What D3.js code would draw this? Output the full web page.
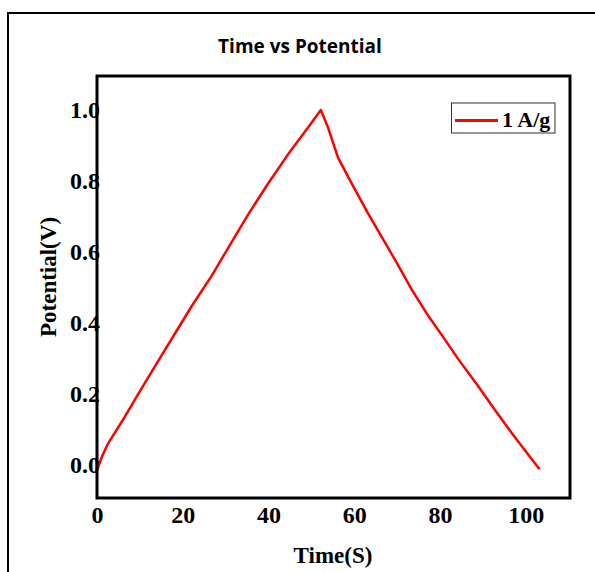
<!DOCTYPE html>
<html><head><meta charset="utf-8">
<script src="https://cdn.jsdelivr.net/npm/d3@7"></script>
<style>body{margin:0;background:#fff}svg{display:block}</style>
</head><body>
<script>
const chartTitle = "Time vs Potential";
const xLabel = "Time(S)";
const yLabel = "Potential(V)";
const seriesName = "1 A/g";
const xTicks = [0, 20, 40, 60, 80, 100];
const yTicks = [0.0, 0.2, 0.4, 0.6, 0.8, 1.0];
const time = [0, 0.3, 1.2, 2.6, 6.5, 9.6, 13.5, 17.4, 22.1, 26.7, 30.6, 35.3, 39.9, 44.6, 49.3, 52.2,
  53.9, 56.2, 59.4, 63.2, 67.1, 70.2, 73.4, 77.2, 81.1, 84.2, 88.9, 92.8, 96.7, 100.5, 103.2];
const potential = [-0.012, -0.005, 0.025, 0.061, 0.136, 0.200, 0.278, 0.355, 0.448, 0.532, 0.612, 0.707, 0.793, 0.876, 0.952, 1.0,
  0.950, 0.866, 0.793, 0.709, 0.628, 0.563, 0.494, 0.421, 0.354, 0.299, 0.222, 0.155, 0.090, 0.030, -0.012];

const W = 595, H = 572;
const svg = d3.select("body").append("svg").attr("width", W).attr("height", H);
svg.append("rect").attr("width", W).attr("height", H).attr("fill", "#fff");
// outer frame
svg.append("rect").attr("x", 8).attr("y", 13).attr("width", 700).attr("height", 700)
  .attr("fill", "none").attr("stroke", "#000").attr("stroke-width", 2);

const L = 97, R = 570, T = 76, B = 498;
const x = d3.scaleLinear().domain([0, 110.3]).range([L, R]);
const y = d3.scaleLinear().domain([-0.093, 1.096]).range([B, T]);

svg.append("text").attr("x", 300).attr("y", 53).attr("text-anchor", "middle")
  .attr("font-family", "'Open Sans', sans-serif").attr("font-weight", "bold").attr("font-size", 19)
  .text(chartTitle);

const serif = "'Liberation Serif', 'Times New Roman', serif";
const xAxis = d3.axisBottom(x).tickValues(xTicks).tickSize(0).tickPadding(8).tickFormat(d3.format("d"));
const gx = svg.append("g").attr("transform", `translate(0,${B})`).call(xAxis);
gx.select(".domain").remove();
gx.selectAll("text").attr("font-family", serif).attr("font-weight", "bold").attr("font-size", 24).attr("fill", "#000");

const yAxis = d3.axisLeft(y).tickValues(yTicks).tickSize(0).tickPadding(-3).tickFormat(d3.format(".1f"));
const gy = svg.append("g").attr("transform", `translate(${L},0)`).call(yAxis);
gy.select(".domain").remove();
gy.selectAll("text").attr("font-family", serif).attr("font-weight", "bold").attr("font-size", 24).attr("fill", "#000");

const line = d3.line().x((d, i) => x(time[i])).y(d => y(d));
svg.append("path").datum(potential).attr("d", line).attr("fill", "none")
  .attr("stroke", "#ff0000").attr("stroke-width", 2.5).attr("stroke-linejoin", "round");

// plot frame
svg.append("rect").attr("x", L).attr("y", T).attr("width", R - L).attr("height", B - T)
  .attr("fill", "none").attr("stroke", "#000").attr("stroke-width", 3);

svg.append("text").attr("x", 333).attr("y", 563).attr("text-anchor", "middle")
  .attr("font-family", serif).attr("font-weight", "bold").attr("font-size", 23).text(xLabel);
svg.append("text").attr("transform", "translate(56,277) rotate(-90)").attr("text-anchor", "middle")
  .attr("font-family", serif).attr("font-weight", "bold").attr("font-size", 23).text(yLabel);

// legend
const lg = svg.append("g");
lg.append("rect").attr("x", 451.5).attr("y", 103).attr("width", 103.5).attr("height", 30)
  .attr("fill", "#fff").attr("stroke", "#333").attr("stroke-width", 1);
lg.append("line").attr("x1", 455).attr("x2", 498).attr("y1", 120.5).attr("y2", 120.5)
  .attr("stroke", "#ff0000").attr("stroke-width", 3);
lg.append("text").attr("x", 502).attr("y", 127).attr("font-family", serif).attr("font-weight", "bold")
  .attr("font-size", 22).text(seriesName);
</script>
</body></html>
